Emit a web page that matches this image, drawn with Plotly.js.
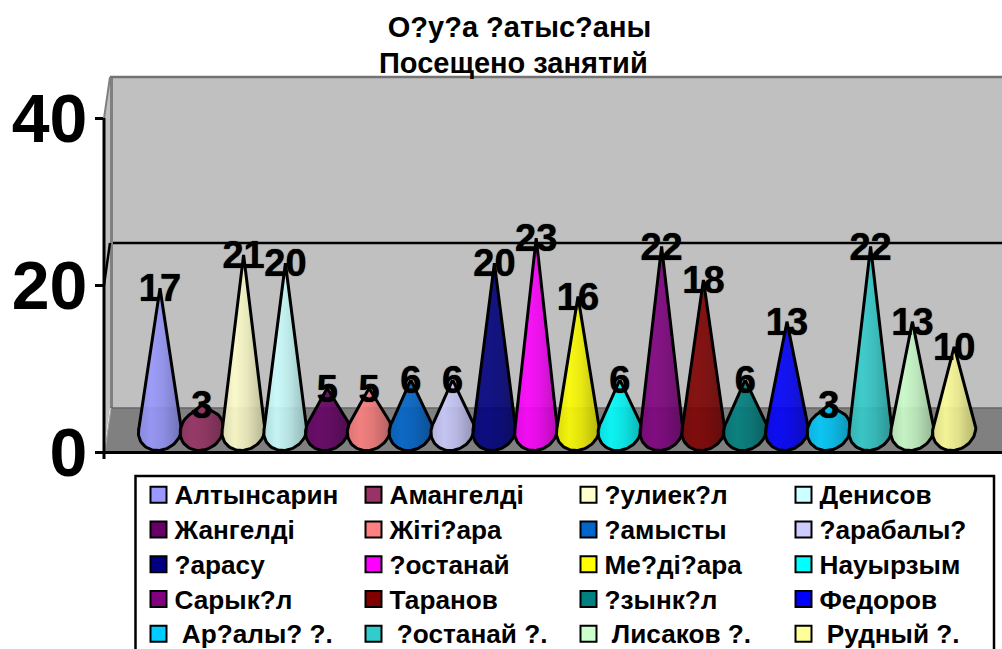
<!DOCTYPE html>
<html><head><meta charset="utf-8">
<script src="https://cdn.plot.ly/plotly-3.0.1.min.js"></script>
<style>html,body{margin:0;padding:0;background:#fff;overflow:hidden}</style>
</head><body><div id="chart" style="width:1002px;height:649px"></div>
<script>
const categories = ['Алтынсарин','Амангелді','?улиек?л','Денисов','Жангелді','Жіті?ара','?амысты','?арабалы?','?арасу','?останай','Ме?ді?ара','Науырзым','Сарык?л','Таранов','?зынк?л','Федоров','\u00a0Ар?алы? ?.','\u00a0?останай ?.','\u00a0Лисаков ?.','\u00a0Рудный ?.'];
const values = [17,3,21,20,5,5,6,6,20,23,16,6,22,18,6,13,3,22,13,10];
const colors = ['#9999FF','#993366','#FFFFCC','#CCFFFF','#660066','#FF8080','#0066CC','#CCCCFF','#000080','#FF00FF','#FFFF00','#00FFFF','#800080','#800000','#008080','#0000FF','#00CCFF','#33CCCC','#CCFFCC','#FFFF99'];
const titleLine1 = 'О?у?а ?атыс?аны';
const titleLine2 = 'Посещено занятий';
const yTicks = [0,20,40];

const W=1002,H=649,L=104,T=77,B=452,R=1002;
const pxPerUnit=8.34, pxPerCat=41.8, firstCat=160;
const fx=p=>(p-L)/(R-L), fy=p=>(B-p)/(B-T);
const depth=22/pxPerUnit, coneA=21.5/pxPerCat, coneB=20.5/pxPerUnit, shear=0.025;

function shade(hex,k){
  const n=parseInt(hex.slice(1),16);
  const c=[n>>16&255,n>>8&255,n&255].map(v=>Math.round(Math.min(255,v*k)));
  return 'rgba('+c.join(',')+',0.9)';
}
function cone(i,v){
  const xs=[i],ys=[v+depth];
  const th=Math.asin(Math.min(1,coneB/v));
  const n=48;
  for(let k=0;k<=n;k++){
    const a=th-(k/n)*(Math.PI+2*th);   // from the right tangent, under the base, to the left tangent
    const ex=Math.cos(a), ey=Math.sin(a);
    xs.push(i+coneA*ex+shear*coneB*ey);
    ys.push(depth+coneB*ey);
  }
  xs.push(i);ys.push(v+depth);
  return {xs,ys};
}
const traces=[];
categories.forEach((name,i)=>{
  const c=cone(i,values[i]);
  traces.push({type:'scatter',mode:'lines',x:c.xs,y:c.ys,fill:'toself',showlegend:false,hoverinfo:'skip',
    line:{color:'#000',width:3,shape:'linear'},
    fillgradient:{type:'horizontal',colorscale:[[0,shade(colors[i],0.9)],[0.3,shade(colors[i],1)],[0.6,shade(colors[i],0.92)],[1,shade(colors[i],0.72)]]}
  });
});
categories.forEach((name,i)=>{
  traces.push({type:'scatter',mode:'markers',x:[null],y:[null],name:'<span style="font-size:26.2px">'+name+'</span>',hoverinfo:'skip',
    marker:{symbol:'square',size:16,color:colors[i],line:{color:'#000',width:2}}});
});
traces.push({type:'scatter',mode:'text',x:values.map((v,i)=>i),y:values.map(v=>v+depth-0.45),text:values.map(String),
  textposition:'middle center',textfont:{family:'Liberation Sans',size:38,color:'#000',weight:700,shadow:'0 0 1px #000'},showlegend:false,hoverinfo:'skip',cliponaxis:false});

const P={xref:'paper',yref:'paper',layer:'below'};
const shapes=[
 {...P,type:'path',path:`M${fx(104)},${fy(452)}L${fx(104)},${fy(118.5)}L${fx(110)},${fy(77)}L${fx(110)},${fy(408)}Z`,fillcolor:'#C0C0C0',line:{width:0}},
 {...P,type:'rect',x0:fx(110),x1:fx(1002),y0:fy(408),y1:fy(77),fillcolor:'#C0C0C0',line:{width:0}},
 {...P,type:'path',path:`M${fx(104)},${fy(452)}L${fx(111)},${fy(408)}L${fx(1002)},${fy(408)}L${fx(1002)},${fy(452)}Z`,fillcolor:'#808080',line:{width:0}},
 {...P,type:'rect',x0:fx(110),x1:fx(113),y0:fy(408),y1:fy(77),fillcolor:'#808080',line:{width:0}},
 {...P,type:'line',x0:fx(110),x1:fx(1002),y0:fy(77),y1:fy(77),line:{color:'#737373',width:2.5}},
 {...P,type:'line',x0:fx(111),x1:fx(1002),y0:fy(408),y1:fy(408),line:{color:'#666666',width:1.5}},
 {...P,type:'line',x0:fx(104),x1:fx(110),y0:fy(118.5),y1:fy(77),line:{color:'#808080',width:2}},
 {...P,type:'line',x0:fx(105),x1:fx(111),y0:fy(452),y1:fy(408),line:{color:'#A8A8A8',width:1}},
 {...P,type:'line',x0:fx(104),x1:fx(110),y0:fy(285),y1:fy(243),line:{color:'#000',width:2.5}},
 {...P,type:'line',x0:fx(113),x1:fx(1002),y0:fy(243),y1:fy(243),line:{color:'#000',width:2.5}},
 {...P,type:'line',x0:fx(104),x1:fx(104),y0:fy(459),y1:fy(118),line:{color:'#000',width:3}},
 {...P,type:'line',x0:fx(96),x1:fx(1002),y0:fy(452.5),y1:fy(452.5),line:{color:'#000',width:3}},
 {...P,type:'rect',x0:fx(135.5),x1:fx(994),y0:fy(476),y1:fy(665),fillcolor:'#fff',line:{color:'#000',width:2.5}}
];
const layout={
  width:W,height:H,paper_bgcolor:'#fff',plot_bgcolor:'rgba(0,0,0,0)',showlegend:true,
  margin:{l:L,t:T,r:W-R,b:H-B,pad:0,autoexpand:false},
  font:{family:'Liberation Sans',color:'#000'},
  title:{text:titleLine1,font:{family:'Liberation Sans',size:29,weight:700,color:'#000'},x:fx(519.5),xanchor:'center',xref:'paper',y:1-27/H,yanchor:'middle',pad:{t:0,b:0,l:0,r:0}},
  annotations:[{text:titleLine2,xref:'paper',yref:'paper',x:fx(513),y:fy(63),xanchor:'center',yanchor:'middle',showarrow:false,font:{family:'Liberation Sans',size:29,weight:700,color:'#000'}}],
  xaxis:{range:[(L-firstCat)/pxPerCat,(R-firstCat)/pxPerCat],showticklabels:false,ticks:'',showgrid:false,zeroline:false,showline:false,fixedrange:true},
  yaxis:{range:[0,(B-T)/pxPerUnit],tickmode:'array',tickvals:yTicks,ticktext:yTicks.map(String),ticks:'outside',ticklen:8,tickwidth:2.5,tickcolor:'#000',
    ticklabelstandoff:-6,tickfont:{family:'Liberation Sans',size:68,weight:700,color:'#000'},showgrid:false,zeroline:false,showline:false,fixedrange:true},
  legend:{orientation:'h',xref:'paper',yref:'paper',x:fx(134.5),y:fy(472.5),xanchor:'left',yanchor:'top',
    bgcolor:'rgba(0,0,0,0)',borderwidth:0,traceorder:'normal',entrywidth:170,entrywidthmode:'pixels',
    font:{family:'Liberation Sans',size:24.4,weight:700,color:'#000'},maxheight:400,itemclick:false,itemdoubleclick:false},
  shapes:shapes
};
Plotly.newPlot('chart',traces,layout,{displayModeBar:false,responsive:false}).then(()=>{
  document.querySelectorAll('.legend .legendsymbols').forEach(g=>g.setAttribute('transform','translate(4,0)'));
});
</script></body></html>
